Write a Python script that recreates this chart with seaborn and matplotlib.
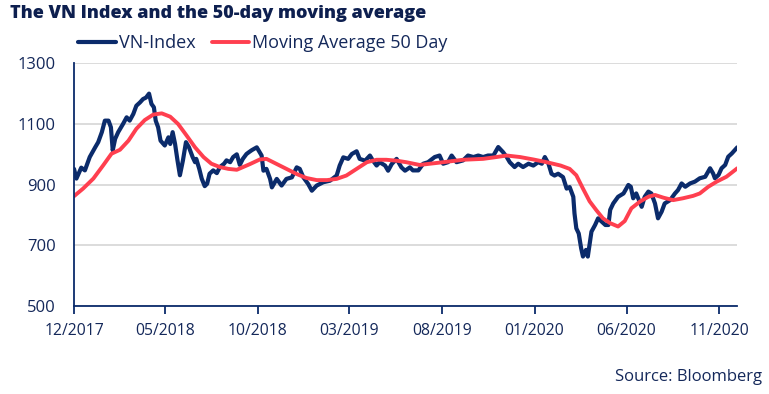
import pandas as pd
import seaborn as sns
import matplotlib.pyplot as plt
import matplotlib.dates as mdates

# VN-Index (approx.)
vn_dates = [
    '2017-12-01', '2017-12-05', '2017-12-13', '2017-12-19', '2017-12-27', '2018-01-05', '2018-01-10',
    '2018-01-16', '2018-01-21', '2018-01-27', '2018-01-31', '2018-02-03', '2018-02-07', '2018-02-12',
    '2018-02-20', '2018-02-26', '2018-03-03', '2018-03-09', '2018-03-14', '2018-03-20', '2018-03-25',
    '2018-03-30', '2018-04-04', '2018-04-08', '2018-04-12', '2018-04-15', '2018-04-19', '2018-04-23',
    '2018-04-30', '2018-05-06', '2018-05-09', '2018-05-13', '2018-05-17', '2018-05-21', '2018-05-25',
    '2018-05-30', '2018-06-04', '2018-06-09', '2018-06-15', '2018-06-19', '2018-06-21', '2018-06-26',
    '2018-06-30', '2018-07-05', '2018-07-09', '2018-07-13', '2018-07-19', '2018-07-25', '2018-07-30',
    '2018-08-06', '2018-08-10', '2018-08-16', '2018-08-21', '2018-08-27', '2018-09-01', '2018-09-06',
    '2018-09-12', '2018-09-16', '2018-09-21', '2018-09-29', '2018-10-07', '2018-10-10', '2018-10-15',
    '2018-10-21', '2018-10-24', '2018-11-01', '2018-11-09', '2018-11-17', '2018-11-26', '2018-12-04',
    '2018-12-09', '2018-12-15', '2018-12-23', '2018-12-29', '2019-01-06', '2019-01-17', '2019-01-28',
    '2019-02-08', '2019-02-13', '2019-02-19', '2019-02-27', '2019-03-05', '2019-03-13', '2019-03-18',
    '2019-03-27', '2019-04-04', '2019-04-09', '2019-04-15', '2019-04-20', '2019-04-29', '2019-05-04',
    '2019-05-10', '2019-05-18', '2019-05-26', '2019-06-01', '2019-06-09', '2019-06-14', '2019-06-23',
    '2019-07-01', '2019-07-09', '2019-07-20', '2019-07-28', '2019-08-03', '2019-08-11', '2019-08-17',
    '2019-08-25', '2019-09-05', '2019-09-13', '2019-09-22', '2019-09-30', '2019-10-08', '2019-10-16',
    '2019-10-25', '2019-11-02', '2019-11-10', '2019-11-16', '2019-11-21', '2019-11-29', '2019-12-05',
    '2019-12-13', '2019-12-22', '2019-12-30', '2020-01-07', '2020-01-13', '2020-01-18', '2020-01-24',
    '2020-01-29', '2020-02-03', '2020-02-09', '2020-02-17', '2020-02-23', '2020-02-28', '2020-03-05',
    '2020-03-07', '2020-03-10', '2020-03-14', '2020-03-18', '2020-03-21', '2020-03-26', '2020-03-29',
    '2020-04-04', '2020-04-10', '2020-04-15', '2020-04-21', '2020-04-27', '2020-05-02', '2020-05-05',
    '2020-05-10', '2020-05-18', '2020-05-27', '2020-06-04', '2020-06-08', '2020-06-12', '2020-06-17',
    '2020-06-26', '2020-07-01', '2020-07-07', '2020-07-12', '2020-07-18', '2020-07-23', '2020-07-29',
    '2020-08-03', '2020-08-12', '2020-08-20', '2020-08-25', '2020-08-31', '2020-09-06', '2020-09-14',
    '2020-09-22', '2020-09-30', '2020-10-09', '2020-10-17', '2020-10-22', '2020-10-25', '2020-10-31',
    '2020-11-05', '2020-11-11', '2020-11-16', '2020-11-22', '2020-11-27', '2020-12-01',
]
vn_values = [
    952, 920, 956, 947, 991, 1023, 1040,
    1073, 1111, 1111, 1089, 1013, 1051, 1073,
    1100, 1122, 1111, 1133, 1160, 1171, 1182,
    1187, 1200, 1166, 1155, 1111, 1089, 1045,
    1029, 1056, 1034, 1073, 1034, 980, 931,
    980, 1040, 1023, 991, 974, 985, 952,
    920, 895, 903, 936, 947, 938, 958,
    969, 980, 974, 991, 1000, 965, 985,
    1001, 1007, 1014, 1023, 996, 946, 952,
    919, 891, 919, 897, 919, 924, 957,
    952, 924, 902, 880, 897, 908, 913,
    930, 963, 990, 985, 1001, 1010, 985,
    979, 996, 979, 963, 974, 963, 946,
    968, 985, 957, 946, 957, 947, 947,
    969, 974, 991, 996, 969, 974, 996,
    974, 980, 996, 991, 996, 991, 996,
    996, 1024, 1007, 991, 974, 958, 969,
    958, 969, 963, 974, 969, 991, 969,
    936, 930, 936, 925, 887, 892, 860,
    805, 756, 739, 690, 663, 685, 663,
    745, 767, 789, 778, 767, 767, 817,
    838, 860, 871, 899, 893, 855, 871,
    827, 860, 877, 871, 838, 789, 811,
    838, 849, 871, 882, 904, 893, 904,
    910, 921, 926, 954, 937, 921, 932,
    954, 965, 992, 1003, 1014, 1023,
]

# 50-day moving average
ma_dates = [
    '2017-12-01', '2017-12-16', '2018-01-02', '2018-01-18', '2018-02-01', '2018-02-15', '2018-03-01',
    '2018-03-14', '2018-03-28', '2018-04-11', '2018-04-25', '2018-05-09', '2018-05-22', '2018-06-05',
    '2018-06-19', '2018-07-03', '2018-07-16', '2018-07-30', '2018-08-13', '2018-08-27', '2018-09-18',
    '2018-10-04', '2018-10-15', '2018-11-01', '2018-11-17', '2018-12-04', '2018-12-20', '2019-01-06',
    '2019-01-23', '2019-02-08', '2019-02-24', '2019-03-13', '2019-03-30', '2019-04-15', '2019-05-01',
    '2019-05-18', '2019-06-03', '2019-06-25', '2019-08-03', '2019-09-05', '2019-10-08', '2019-10-30',
    '2019-11-16', '2019-12-08', '2019-12-30', '2020-01-21', '2020-02-13', '2020-02-28', '2020-03-10',
    '2020-03-21', '2020-04-01', '2020-04-12', '2020-04-23', '2020-05-05', '2020-05-18', '2020-05-29',
    '2020-06-09', '2020-06-23', '2020-07-07', '2020-07-18', '2020-08-01', '2020-08-17', '2020-09-02',
    '2020-09-19', '2020-09-30', '2020-10-14', '2020-10-28', '2020-11-13', '2020-12-01',
]
ma_values = [
    862, 887, 920, 963, 1002, 1015, 1045,
    1084, 1113, 1131, 1135, 1124, 1100, 1062,
    1023, 991, 969, 958, 952, 949, 968,
    983, 985, 968, 952, 935, 922, 915,
    915, 919, 930, 952, 974, 982, 982,
    979, 974, 965, 974, 982, 985, 991,
    996, 991, 983, 974, 963, 952, 931,
    887, 845, 816, 789, 773, 762, 780,
    822, 844, 860, 866, 857, 849, 855,
    863, 871, 893, 910, 926, 954,
]

y_ticks = [500, 700, 900, 1100, 1300]
x_ticks = pd.date_range('2017-12-01', '2020-11-01', freq='5MS')

navy = '#0b2b6b'
red = '#ff3f4f'
text_col = '#14285a'

vn = pd.DataFrame({'date': pd.to_datetime(vn_dates), 'value': vn_values})
ma = pd.DataFrame({'date': pd.to_datetime(ma_dates), 'value': ma_values})

sns.set_theme(style='white')
plt.rcParams['font.family'] = ['Open Sans', 'DejaVu Sans']

fig = plt.figure(figsize=(7.69, 3.94), dpi=100)
ax = fig.add_axes([74 / 769, 1 - 306 / 394, (737.3 - 74) / 769, (306 - 63.3) / 394])

sns.lineplot(data=vn, x='date', y='value', ax=ax, color=navy, linewidth=3, label='VN-Index')
sns.lineplot(data=ma, x='date', y='value', ax=ax, color=red, linewidth=2.8, label='Moving Average 50 Day')

ax.set_ylim(500, 1300)
ax.set_yticks(y_ticks)
ax.set_xlim(vn['date'].min(), vn['date'].max())
ax.set_xticks(x_ticks)
ax.xaxis.set_major_formatter(mdates.DateFormatter('%m/%Y'))
ax.set_xlabel('')
ax.set_ylabel('')
ax.yaxis.grid(True, color='#d9d9d9', linewidth=1.3)
ax.set_axisbelow(True)

for s in ['top', 'right']:
    ax.spines[s].set_visible(False)
for s in ['left', 'bottom']:
    ax.spines[s].set_color(navy)
    ax.spines[s].set_linewidth(1.3)

ax.tick_params(axis='x', which='major', bottom=True, length=6, width=1.3, color=navy,
               labelsize=11.3, labelcolor=text_col, pad=6)
ax.tick_params(axis='y', left=False, labelsize=12, labelcolor=text_col, pad=7)

ax.get_legend().remove()
h, l = ax.get_legend_handles_labels()
fig.legend(h, l, loc='center left', bbox_to_anchor=(78 / 769, 1 - 43 / 394), ncol=2,
           frameon=False, fontsize=13, handlelength=2.1, handletextpad=0.15,
           columnspacing=0.9, borderaxespad=0, borderpad=0, labelcolor=text_col)

fig.text(10 / 769, 1 - 13 / 394, 'The VN Index and the 50-day moving average', fontsize=13,
         fontweight='heavy', color='#0d1f4f', ha='left', va='center')
fig.text(762 / 769, 1 - 377 / 394, 'Source: Bloomberg', fontsize=12, color=text_col,
         ha='right', va='center')

fig.savefig('out.png', dpi=100)
